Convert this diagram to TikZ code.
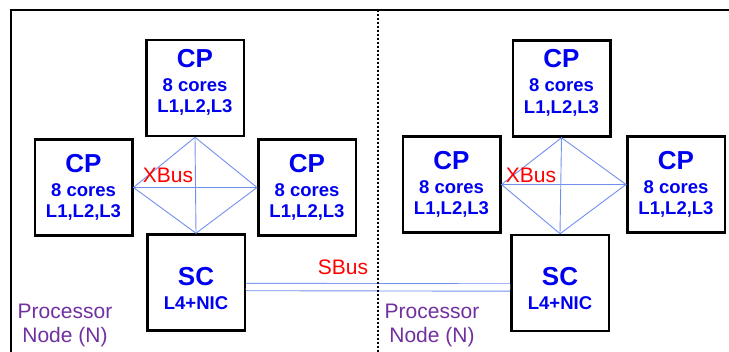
\documentclass[tikz,border=0pt]{standalone}
\usepackage{fontspec}
\setmainfont{Liberation Sans}
\usepackage{xcolor}
\usetikzlibrary{positioning, calc}
\definecolor{ChipBlue}{HTML}{0000F0}
\definecolor{BusRed}{HTML}{FF0000}
\definecolor{BusBlue}{HTML}{7090F0}
\definecolor{NodePurple}{HTML}{7030A0}
\newcommand{\chiptitle}[1]{{\fontsize{26}{26}\selectfont #1}}
\newcommand{\cptext}{\chiptitle{CP}\\[2.5pt]8 cores\\L1,L2,L3}
\newcommand{\sctext}{\chiptitle{SC}\\[2.5pt]L4+NIC}

\begin{document}
\begin{tikzpicture}[x=1pt, y=-1pt,
    chipbox/.style={draw, line width=2.5pt, minimum width=97.5pt, minimum height=96pt,
      inner sep=0pt, align=center, text=ChipBlue, font=\bfseries\fontsize{18.5}{21.5}\selectfont},
    xlink/.style={draw=BusBlue, line width=0.9pt},
    buslabel/.style={text=BusRed, inner sep=0pt, font=\fontsize{21}{24}\selectfont},
    panellabel/.style={text=NodePurple, inner sep=0pt, align=center, font=\fontsize{21}{24}\selectfont}]
  \useasboundingbox (0,0) rectangle (729,352);

  % left processor node
  \node[chipbox, text depth=14pt] (topL) at (195,88) {\cptext};
  \node[chipbox] (westL)  at (83.5,187.5) {\cptext};
  \node[chipbox] (eastL)  at (307,187.5) {\cptext};
  \node[chipbox, text height=54pt] (scL) at (196,282.5) {\sctext};

  % right processor node
  \node[chipbox, text depth=14pt] (topR) at (561.5,88.5) {\cptext};
  \node[chipbox] (westR)  at (451.5,184.5) {\cptext};
  \node[chipbox] (eastR)  at (676,184.5) {\cptext};
  \node[chipbox, text height=54pt] (scR) at (560,283) {\sctext};

  % XBus meshes
  \foreach \s in {L,R} {
    \draw[xlink] (top\s.south) -- (west\s.east) -- (sc\s.north) -- (east\s.west) -- cycle;
    \draw[xlink] (top\s.south) -- (sc\s.north);
    \draw[xlink] (west\s.east) -- (east\s.west);
  }
  \node[buslabel] (xbusL) at (168,175) {XBus};
  \node[buslabel] (xbusR) at (531,175) {XBus};

  % SBus between the two service chips
  \draw[draw=BusBlue, line width=0.9pt, double=white, double distance=6.5pt]
    ([yshift=-4.5pt]scL.east) -- ([yshift=-4.5pt]scR.west);
  \node[buslabel] (sbus) at (343,267) {SBus};

  % frame and divider
  \coordinate (frameBL) at (11,352);
  \coordinate (frameTL) at (11,10);
  \coordinate (frameTR) at (729,10);
  \coordinate (splitT) at (378,10);
  \coordinate (splitB) at (378,352);
  \draw[line width=2pt] (frameBL) -- (frameTL) -- (frameTR);
  \draw[line width=2pt, dash pattern=on 2pt off 2pt] (splitT) -- (splitB);

  \node[panellabel] (pnL) at (65,325)  {Processor\\Node (N)};
  \node[panellabel] (pnR) at (432,325) {Processor\\Node (N)};
\end{tikzpicture}
\end{document}
